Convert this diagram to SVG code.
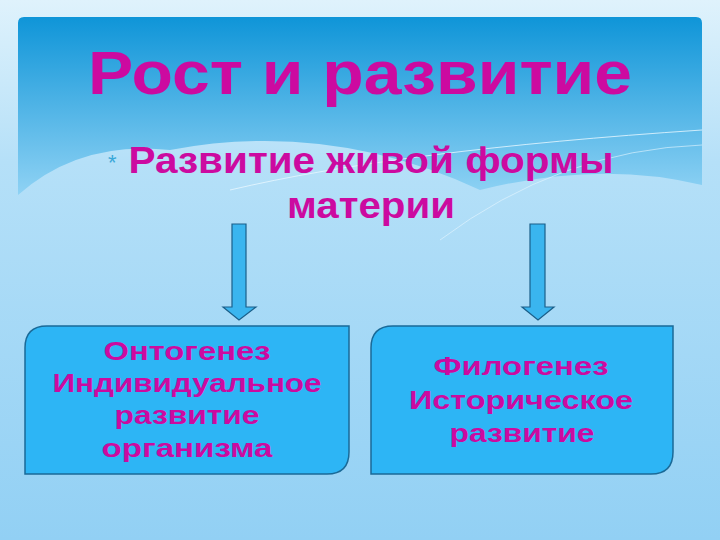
<svg xmlns="http://www.w3.org/2000/svg" width="720" height="540" viewBox="0 0 720 540">
<defs>
<linearGradient id="bg" x1="0" y1="0" x2="0" y2="1"><stop offset="0" stop-color="#dff2fc"/><stop offset="0.3" stop-color="#b5e0f8"/><stop offset="1" stop-color="#92d0f4"/></linearGradient>
<linearGradient id="ban" x1="0" y1="0" x2="0" y2="1"><stop offset="0" stop-color="#0f95d8"/><stop offset="1" stop-color="#8fd2f4"/></linearGradient>
<style>
.t{font-family:"Liberation Sans",Arial,sans-serif;font-weight:bold;fill:#cc0aa0;text-anchor:middle}
.box{fill:#2db5f5;stroke:#1a6a98;stroke-width:1.5}
.arr{fill:#3ab5ef;stroke:#1a5f8a;stroke-width:1.2}
</style>
</defs>
<rect width="720" height="540" fill="url(#bg)"/>
<path d="M24,17 H696 Q702,17 702,23 V185 Q600,160 480,190 Q330,120 170,150 Q80,140 18,195 V23 Q18,17 24,17Z" fill="url(#ban)"/>
<path d="M230,190 Q400,150 702,130" fill="none" stroke="#e8f7ff" stroke-width="1" opacity="0.8"/>
<path d="M440,240 Q560,150 702,145" fill="none" stroke="#e8f7ff" stroke-width="1" opacity="0.6"/>
<text class="t" x="360" y="94" font-size="62" textLength="544" lengthAdjust="spacingAndGlyphs">Рост и развитие</text>
<text x="108" y="170" font-family="Liberation Sans,sans-serif" font-size="22" fill="#3aa8d8">*</text>
<text class="t" x="371" y="173" font-size="36" textLength="485" lengthAdjust="spacingAndGlyphs">Развитие живой формы</text>
<text class="t" x="371" y="218" font-size="36" textLength="168" lengthAdjust="spacingAndGlyphs">материи</text>
<g id="connectors">
<path class="arr" d="M232,224 H246 V307 H256 L239,320 L223,307 H232Z"/>
<path class="arr" d="M530,224 H545 V307 H554 L538,320 L522,307 H530Z"/>
</g>
<g id="ontogenesis">
<path class="box" d="M47,326 H349 V452 Q349,474 327,474 H25 V348 Q25,326 47,326Z"/>
<text class="t" x="187" y="360" font-size="25" textLength="167" lengthAdjust="spacingAndGlyphs">Онтогенез</text>
<text class="t" x="187" y="392" font-size="25" textLength="269" lengthAdjust="spacingAndGlyphs">Индивидуальное</text>
<text class="t" x="187" y="424" font-size="25" textLength="145" lengthAdjust="spacingAndGlyphs">развитие</text>
<text class="t" x="187" y="457" font-size="25" textLength="171" lengthAdjust="spacingAndGlyphs">организма</text>
</g>
<g id="phylogenesis">
<path class="box" d="M393,326 H673 V452 Q673,474 651,474 H371 V348 Q371,326 393,326Z"/>
<text class="t" x="521" y="375" font-size="25" textLength="175" lengthAdjust="spacingAndGlyphs">Филогенез</text>
<text class="t" x="521" y="409" font-size="25" textLength="224" lengthAdjust="spacingAndGlyphs">Историческое</text>
<text class="t" x="522" y="442" font-size="25" textLength="145" lengthAdjust="spacingAndGlyphs">развитие</text>
</g>
</svg>
